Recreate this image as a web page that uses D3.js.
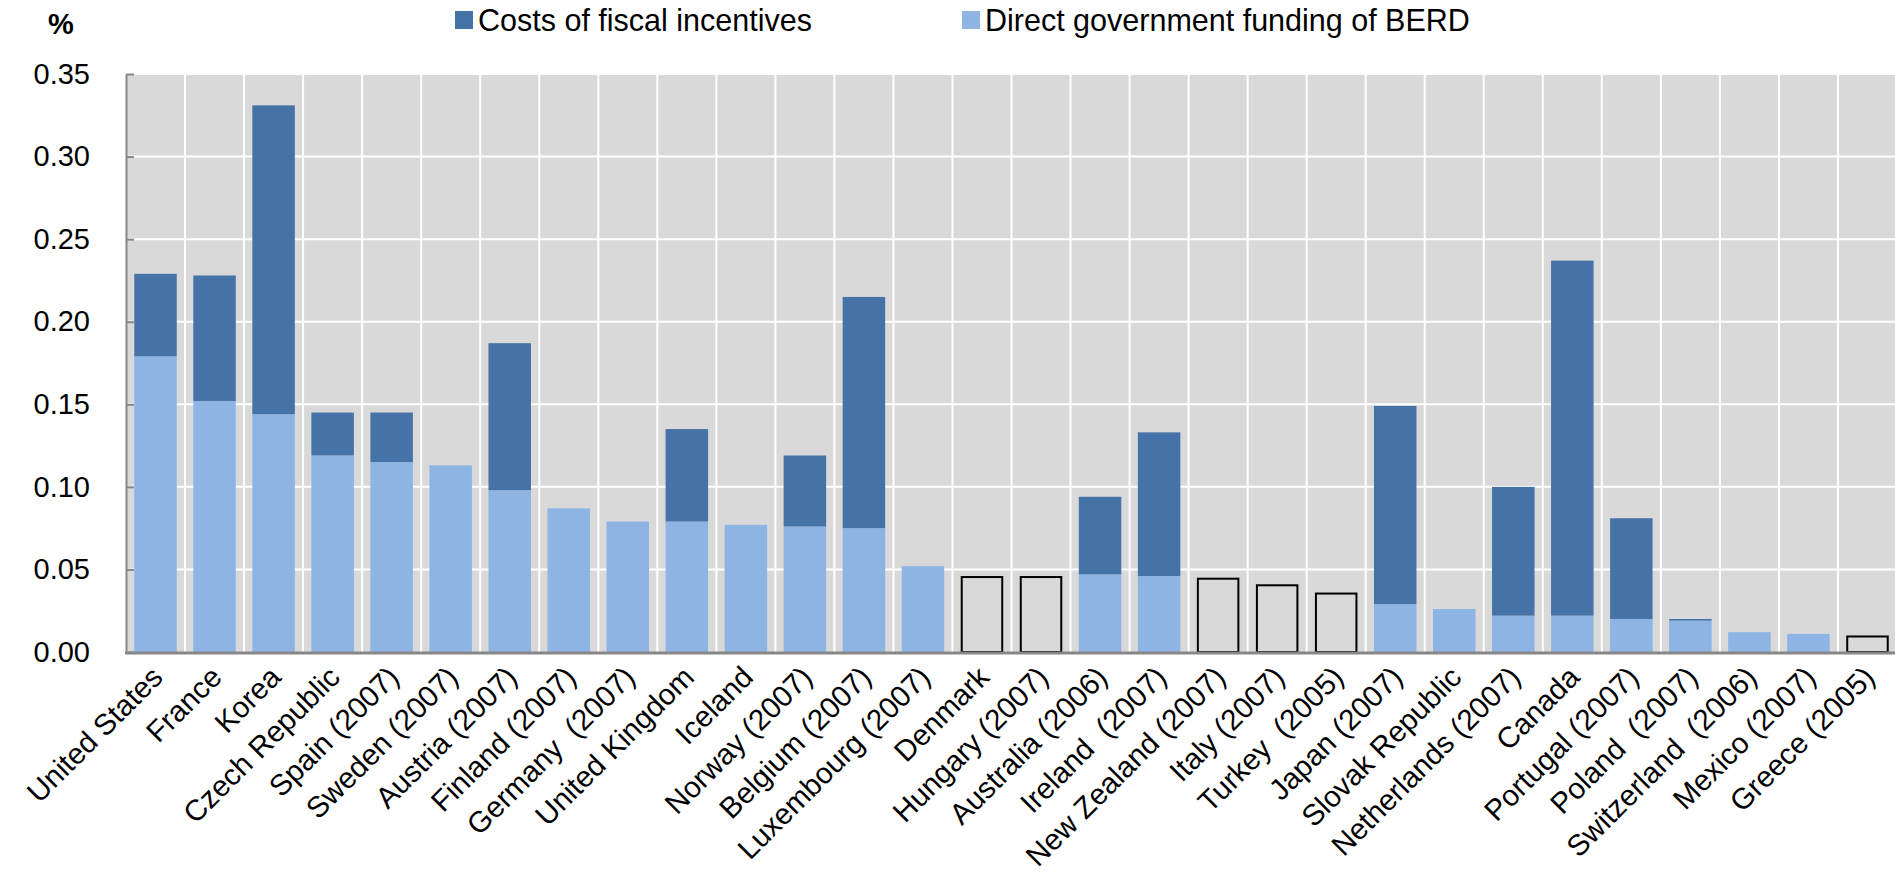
<!DOCTYPE html>
<html>
<head>
<meta charset="utf-8">
<script src="https://cdn.jsdelivr.net/npm/d3@7"></script>
<style>
  html, body { margin: 0; padding: 0; background: #ffffff; }
  svg { display: block; font-family: "Liberation Sans", Arial, sans-serif; }
</style>
</head>
<body>
<svg id="chart" width="1895" height="874"></svg>
<script>
// ---- Data ----
const categories = [
  "United States", "France", "Korea", "Czech Republic", "Spain (2007)",
  "Sweden (2007)", "Austria (2007)", "Finland (2007)", "Germany  (2007)", "United Kingdom",
  "Iceland", "Norway (2007)", "Belgium (2007)", "Luxembourg (2007)", "Denmark",
  "Hungary (2007)", "Australia (2006)", "Ireland  (2007)", "New Zealand (2007)", "Italy (2007)",
  "Turkey  (2005)", "Japan (2007)", "Slovak Republic", "Netherlands (2007)", "Canada",
  "Portugal (2007)", "Poland  (2007)", "Switzerland  (2006)", "Mexico (2007)", "Greece (2005)"
];
// Direct government funding of BERD (% of GDP)
const directFunding = [
  0.179, 0.152, 0.144, 0.119, 0.115,
  0.113, 0.098, 0.087, 0.079, 0.079,
  0.077, 0.076, 0.075, 0.052, null,
  null, 0.047, 0.046, null, null,
  null, 0.029, 0.026, 0.022, 0.022,
  0.020, 0.019, 0.012, 0.011, null
];
// Costs of fiscal incentives (% of GDP), stacked above direct funding
const fiscalIncentives = [
  0.050, 0.076, 0.187, 0.026, 0.030,
  0, 0.089, 0, 0, 0.056,
  0, 0.043, 0.140, 0, null,
  null, 0.047, 0.087, null, null,
  null, 0.120, 0, 0.078, 0.215,
  0.061, 0.001, 0, 0, null
];
// Total support with no breakdown available (outlined bars)
const totalOnly = [
  null, null, null, null, null,
  null, null, null, null, null,
  null, null, null, null, 0.046,
  0.046, null, null, 0.045, 0.041,
  0.036, null, null, null, null,
  null, null, null, null, 0.010
];
const yTicks = [0, 0.05, 0.10, 0.15, 0.20, 0.25, 0.30, 0.35];
const seriesNames = ["Costs of fiscal incentives", "Direct government funding of BERD"];
const colors = { fiscal: "#4673A7", direct: "#8EB4E3", plot: "#D9D9D9", axis: "#878787" };

// ---- Layout ----
const svg = d3.select("#chart");
const plot = { left: 126, right: 1897, top: 74, bottom: 652 };

const x = d3.scaleBand().domain(categories).range([plot.left, plot.right])
  .paddingInner(0.28).paddingOuter(0.14);
const step = x.step();
const y = d3.scaleLinear().domain([0, 0.35]).range([plot.bottom, plot.top]);

// Plot background
svg.append("rect")
  .attr("x", plot.left).attr("y", plot.top)
  .attr("width", plot.right - plot.left).attr("height", plot.bottom - plot.top)
  .attr("fill", colors.plot);

// Horizontal gridlines
svg.append("g").selectAll("line").data(yTicks.slice(1)).join("line")
  .attr("x1", plot.left).attr("x2", plot.right)
  .attr("y1", d => y(d)).attr("y2", d => y(d))
  .attr("stroke", "#ffffff").attr("stroke-width", 2);

// Vertical gridlines at category boundaries
svg.append("g").selectAll("line").data(categories.slice(1)).join("line")
  .attr("x1", d => x(d) - (step - x.bandwidth()) / 2)
  .attr("x2", d => x(d) - (step - x.bandwidth()) / 2)
  .attr("y1", plot.top).attr("y2", plot.bottom)
  .attr("stroke", "#ffffff").attr("stroke-width", 2);

// Bars: direct funding
const idx = d3.range(categories.length);
svg.append("g").selectAll("rect").data(idx.filter(i => directFunding[i] != null)).join("rect")
  .attr("x", i => x(categories[i]))
  .attr("width", x.bandwidth())
  .attr("y", i => y(directFunding[i]))
  .attr("height", i => y(0) - y(directFunding[i]))
  .attr("fill", colors.direct);

// Bars: fiscal incentives stacked
svg.append("g").selectAll("rect").data(idx.filter(i => fiscalIncentives[i])).join("rect")
  .attr("x", i => x(categories[i]))
  .attr("width", x.bandwidth())
  .attr("y", i => y(directFunding[i] + fiscalIncentives[i]))
  .attr("height", i => y(directFunding[i]) - y(directFunding[i] + fiscalIncentives[i]))
  .attr("fill", colors.fiscal);

// Outlined bars (total only)
svg.append("g").selectAll("rect").data(idx.filter(i => totalOnly[i] != null)).join("rect")
  .attr("x", i => x(categories[i]) + 1)
  .attr("width", x.bandwidth() - 2)
  .attr("y", i => y(totalOnly[i]) + 1)
  .attr("height", i => y(0) - y(totalOnly[i]) - 1)
  .attr("fill", colors.plot)
  .attr("stroke", "#000000").attr("stroke-width", 2);

// Y axis
const yAxis = d3.axisLeft(y).tickValues(yTicks).tickFormat(d3.format(".2f"))
  .tickSizeInner(-8).tickSizeOuter(0).tickPadding(36);
const gy = svg.append("g").attr("transform", `translate(${plot.left},0)`).call(yAxis);
gy.select(".domain").attr("stroke", colors.axis).attr("stroke-width", 2);
gy.selectAll(".tick line").attr("stroke", colors.axis).attr("stroke-width", 2);
gy.selectAll(".tick text").attr("font-size", 29).attr("fill", "#000")
  .attr("font-family", '"Liberation Sans", Arial, sans-serif');

// X axis line
svg.append("line")
  .attr("x1", plot.left - 1).attr("x2", plot.right)
  .attr("y1", plot.bottom + 1).attr("y2", plot.bottom + 1)
  .attr("stroke", colors.axis).attr("stroke-width", 3);

// X labels (rotated)
svg.append("g").selectAll("text").data(categories).join("text")
  .attr("transform", d => `translate(${x(d) + x.bandwidth() / 2 + 9},${plot.bottom + 27}) rotate(-45)`)
  .attr("text-anchor", "end")
  .attr("font-size", 29.5)
  .attr("fill", "#000")
  .style("white-space", "pre")
  .text(d => d);

// Unit label
svg.append("text").attr("x", 48).attr("y", 34)
  .attr("font-size", 29).attr("font-weight", "bold").text("%");

// Legend
const legendItems = [
  { name: seriesNames[0], color: colors.fiscal, x: 455 },
  { name: seriesNames[1], color: colors.direct, x: 962 }
];
const lg = svg.append("g").selectAll("g").data(legendItems).join("g")
  .attr("transform", d => `translate(${d.x},0)`);
lg.append("rect").attr("x", 0).attr("y", 11).attr("width", 18).attr("height", 18)
  .attr("fill", d => d.color);
lg.append("text").attr("x", 23).attr("y", 31).attr("font-size", 30.5).attr("fill", "#000")
  .text(d => d.name);
</script>
</body>
</html>
